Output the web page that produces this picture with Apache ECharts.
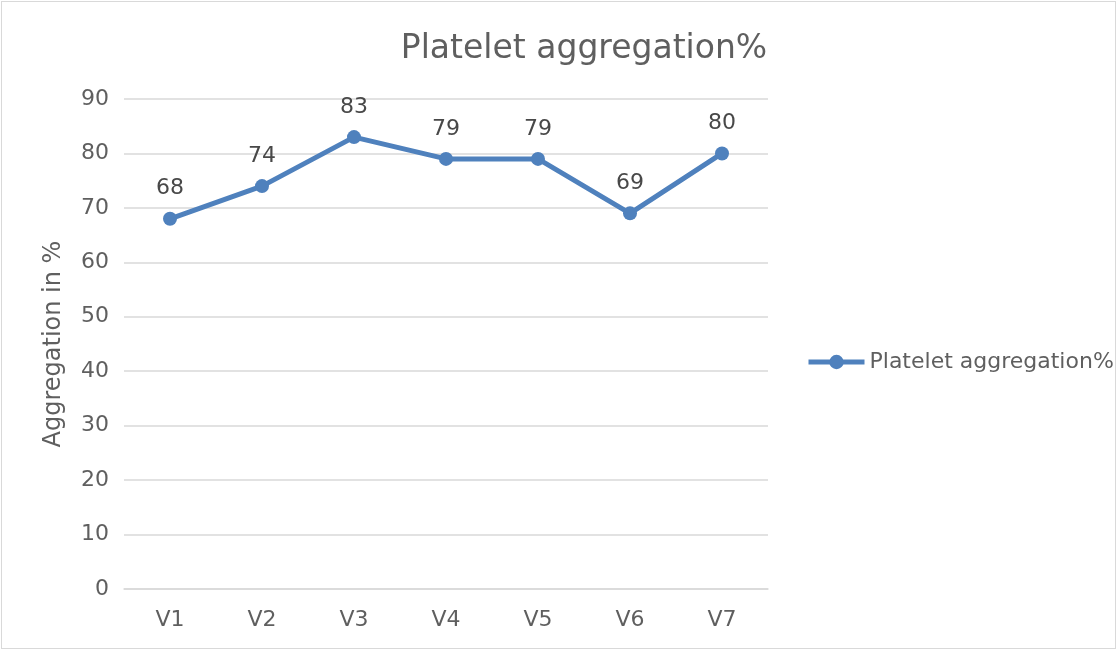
<!DOCTYPE html>
<html>
<head>
<meta charset="utf-8">
<script src="https://cdn.jsdelivr.net/npm/echarts@6/dist/echarts.min.js"></script>
<style>
  html, body { margin: 0; padding: 0; background: #fff; }
  #frame { position: absolute; left: 1px; top: 1px; width: 1113px; height: 646px; border: 1px solid #d9d9d9; }
  #chart { position: absolute; left: 0; top: 0; width: 1118px; height: 651px; }
</style>
</head>
<body>
<div id="frame"></div>
<div id="chart"></div>
<script>
// categories and values
const visits = ['V1', 'V2', 'V3', 'V4', 'V5', 'V6', 'V7']
const aggregation = [68, 74, 83, 79, 79, 69, 80]
const seriesName = 'Platelet aggregation%'

const textFont = '"DejaVu Sans", sans-serif'
const textColor = '#5f5f5f'
const blue = '#4f81bd'

const chart = echarts.init(document.getElementById('chart'))

chart.setOption({
  animation: false,
  title: {
    text: 'Platelet aggregation%',
    left: 579,
    top: 28,
    textAlign: 'center',
    textStyle: { fontFamily: textFont, fontSize: 33, fontWeight: 'normal', color: textColor }
  },
  legend: {
    data: [seriesName],
    left: 801,
    top: 346,
    itemWidth: 56,
    itemHeight: 18,
    itemGap: 4,
    lineStyle: { width: 5 },
    textStyle: { fontFamily: textFont, fontSize: 22, color: textColor }
  },
  grid: { left: 124, right: 350, top: 99, bottom: 62 },
  xAxis: {
    type: 'category',
    data: visits,
    axisLine: { lineStyle: { color: '#d9d9d9', width: 1.5 } },
    axisTick: { show: false },
    axisLabel: { margin: 20, fontFamily: textFont, fontSize: 22, color: textColor }
  },
  yAxis: {
    type: 'value',
    min: 0,
    max: 90,
    interval: 10,
    name: 'Aggregation in %',
    nameLocation: 'middle',
    nameGap: 58,
    nameTextStyle: { fontFamily: textFont, fontSize: 24, color: textColor },
    axisLine: { show: false },
    axisTick: { show: false },
    axisLabel: { margin: 15, fontFamily: textFont, fontSize: 22, color: textColor },
    splitLine: { lineStyle: { color: '#d9d9d9', width: 1.5 } }
  },
  series: [{
    name: seriesName,
    type: 'line',
    data: aggregation,
    symbol: 'circle',
    symbolSize: 14,
    lineStyle: { width: 5, color: blue },
    itemStyle: { color: blue },
    label: {
      show: true,
      position: 'top',
      distance: 12,
      fontFamily: textFont,
      fontSize: 22,
      color: '#484848'
    }
  }]
})
</script>
</body>
</html>
